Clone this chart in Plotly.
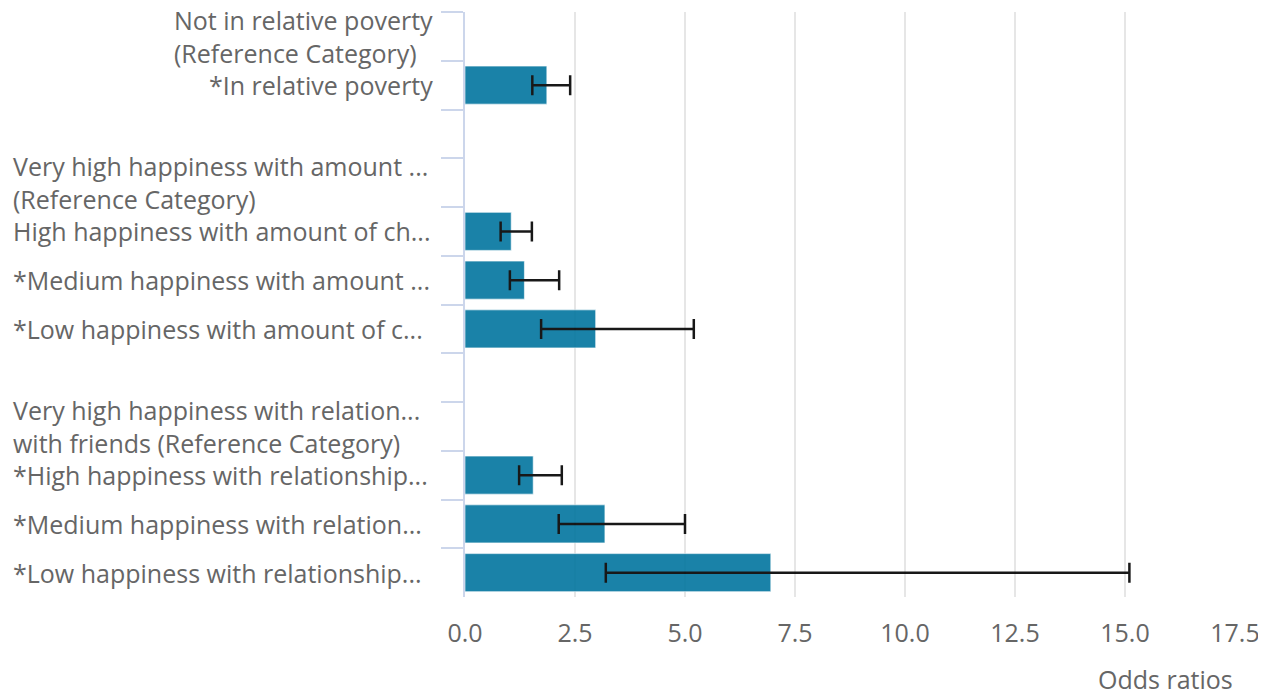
import plotly.graph_objects as go

# Rows top to bottom (blank strings are spacer rows between groups)
categories = [
    "Not in relative poverty<br>(Reference Category)",
    "*In relative poverty",
    " ",
    "Very high happiness with amount ...<br>(Reference Category)",
    "High happiness with amount of ch...",
    "*Medium happiness with amount ...",
    "*Low happiness with amount of c...",
    "  ",
    "Very high happiness with relation...<br>with friends (Reference Category)",
    "*High happiness with relationship...",
    "*Medium happiness with relation...",
    "*Low happiness with relationship...",
]
odds_ratios = [None, 1.86, None, None, 1.05, 1.35, 2.97, None, None, 1.55, 3.18, 6.95]
ci_lower = [None, 1.53, None, None, 0.81, 1.02, 1.73, None, None, 1.23, 2.13, 3.20]
ci_upper = [None, 2.39, None, None, 1.52, 2.14, 5.20, None, None, 2.20, 5.00, 15.10]
x_ticks = [0, 2.5, 5, 7.5, 10, 12.5, 15, 17.5]

err_plus = [None if v is None else u - v for v, u in zip(odds_ratios, ci_upper)]
err_minus = [None if v is None else v - l for v, l in zip(odds_ratios, ci_lower)]

FONT = "Open Sans"
GREY = "#666666"
FS = 25
LEFT_MARGIN = 457

fig = go.Figure()
fig.add_trace(go.Bar(
    y=categories,
    x=odds_ratios,
    orientation="h",
    marker=dict(color="rgb(2,117,159)", line=dict(color="rgba(255,255,255,0.6)", width=1)),
    opacity=0.9,
    error_x=dict(type="data", symmetric=False, array=err_plus, arrayminus=err_minus,
                 color="#000000", thickness=2.5, width=10),
    hoverinfo="x+y",
))

annotations = []
for c in categories:
    if not c.strip():
        continue
    if "..." in c:
        # truncated labels fill the label area from its left edge
        annotations.append(dict(
            x=0, xref="paper", y=c, yref="y", xanchor="left", yanchor="middle",
            xshift=-(LEFT_MARGIN - 3), align="left", showarrow=False, text=c,
            font=dict(family=FONT, size=FS, color=GREY),
        ))
    else:
        annotations.append(dict(
            x=0, xref="paper", y=c, yref="y", xanchor="right", yanchor="middle",
            xshift=-30, align="left", showarrow=False, text=c,
            font=dict(family=FONT, size=FS, color=GREY),
        ))
annotations.append(dict(
    x=1, xref="paper", y=-0.14, yref="paper", xanchor="right", yanchor="middle",
    showarrow=False, text="Odds ratios", font=dict(family=FONT, size=FS, color=GREY),
))

n_rows = len(categories)

fig.update_layout(
    template="none",
    width=1266, height=690,
    margin=dict(l=LEFT_MARGIN, r=39, t=4, b=101, autoexpand=False),
    paper_bgcolor="white", plot_bgcolor="white",
    bargap=0.22,
    showlegend=False,
    font=dict(family=FONT, size=FS, color=GREY),
    annotations=annotations,
    xaxis=dict(
        automargin=False,
        range=[0, 17.5], tickvals=x_ticks, tickformat=".1f",
        showgrid=True, gridcolor="#e6e6e6", gridwidth=1.5,
        zeroline=False, showline=False, ticks="",
        ticklabelstandoff=19,
        tickfont=dict(family=FONT, size=FS, color=GREY),
    ),
    yaxis=dict(
        automargin=False,
        type="category", categoryorder="array", categoryarray=categories,
        range=[n_rows - 0.5, -0.5], autorange=False,
        showticklabels=False, showgrid=False, zeroline=False,
        showline=True, linecolor="#ccd6eb", linewidth=2,
        ticks="outside", tickson="boundaries", ticklen=22, tickcolor="#ccd6eb", tickwidth=2,
    ),
)

fig.write_html("out.html")
